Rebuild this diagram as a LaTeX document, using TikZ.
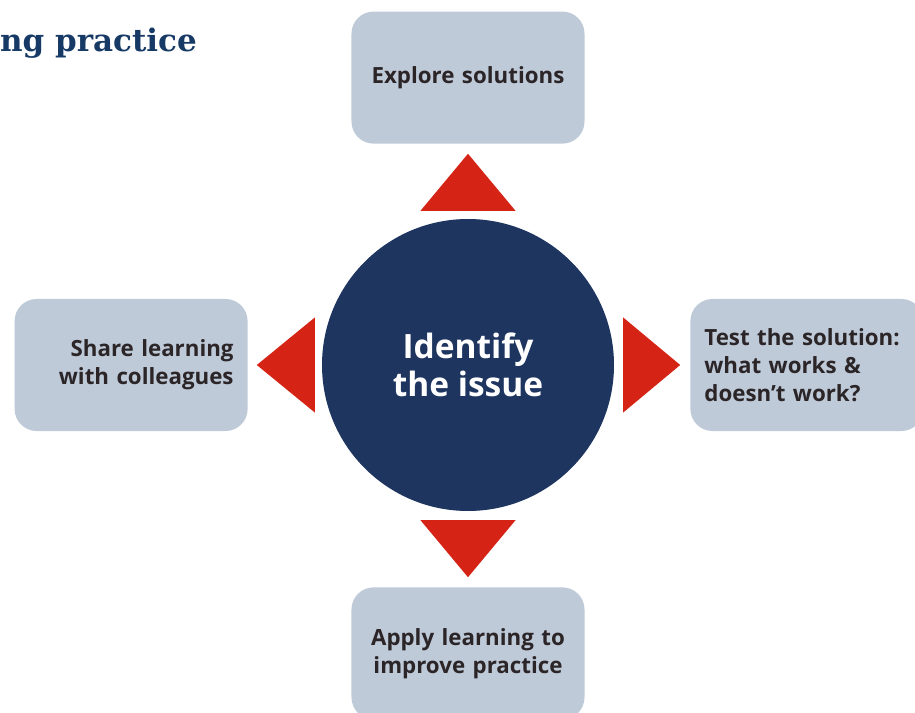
\documentclass[tikz,border=0pt]{standalone}
\usepackage{fontspec}
\setmainfont{Open Sans}
\newfontfamily\titlefont{DejaVu Serif}
\usepackage{tikz}
\usetikzlibrary{shapes.geometric, calc, positioning}
\definecolor{boxblue}{RGB}{191,202,217}
\definecolor{hubnavy}{RGB}{30,53,96}
\definecolor{arrowred}{RGB}{213,35,22}
\definecolor{textdark}{RGB}{43,37,39}
\definecolor{titleblue}{RGB}{22,58,101}
\tikzstyle{box} = [rectangle, rounded corners=22pt, fill=boxblue, minimum width=233pt, minimum height=132pt, text width=205pt, inner sep=14pt, text=textdark, font=\bfseries\fontsize{22.3}{28}\selectfont]
\tikzstyle{hub} = [circle, fill=hubnavy, minimum size=292pt, align=center, text=white, font=\bfseries\fontsize{33.5}{38}\selectfont]
\tikzstyle{tri} = [fill=arrowred]
\begin{document}
\begin{tikzpicture}[node distance = 75pt]
	\useasboundingbox (-468pt,-347pt) rectangle (447pt,365pt);
	\node (Title) [anchor=base east, inner sep=0pt, text=titleblue, font=\titlefont\bfseries\fontsize{31}{36}\selectfont] at (-271pt,313pt) {ng practice};
	\node (Issue) [hub] at (0,0) {Identify\\the issue};
	\node (Explore) [box, align=center, above = 75pt of Issue] {Explore solutions};
	\node (Test) [box, align=left, right = 76pt of Issue] {Test the solution:\\what works \&\\doesn’t work?};
	\node (Apply) [box, align=center, below = 76pt of Issue] {Apply learning to\\improve practice};
	\node (Share) [box, align=right, left = 74pt of Issue] {Share learning\\with colleagues};
	\fill [tri] ($(Issue.north)+(-47.5pt,8pt)$) -- ($(Issue.north)+(0,65pt)$) -- ($(Issue.north)+(47.5pt,8pt)$) -- cycle;
	\fill [tri] ($(Issue.south)+(-47.5pt,-9pt)$) -- ($(Issue.south)+(0,-66pt)$) -- ($(Issue.south)+(47.5pt,-9pt)$) -- cycle;
	\fill [tri] ($(Issue.east)+(9pt,47.5pt)$) -- ($(Issue.east)+(66pt,0)$) -- ($(Issue.east)+(9pt,-47.5pt)$) -- cycle;
	\fill [tri] ($(Issue.west)+(-7pt,47.5pt)$) -- ($(Issue.west)+(-65pt,0)$) -- ($(Issue.west)+(-7pt,-47.5pt)$) -- cycle;
\end{tikzpicture}
\end{document}
